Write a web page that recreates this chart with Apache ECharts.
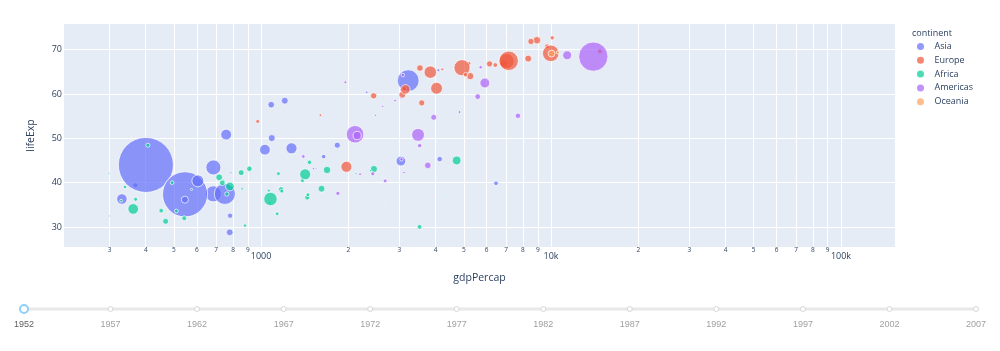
<!DOCTYPE html>
<html><head><meta charset="utf-8">
<script src="https://cdn.jsdelivr.net/npm/echarts@6/dist/echarts.min.js"></script>
<style>html,body{margin:0;padding:0;background:#fff}#c{width:1000px;height:351px}</style>
</head><body><div id="c"></div>
<script>
const years = ['1952','1957','1962','1967','1972','1977','1982','1987','1992','1997','2002','2007'];
const continents = ['Asia','Europe','Africa','Americas','Oceania'];
const colors = ['#636efa','#EF553B','#00cc96','#ab63fa','#FFA15A'];
// [country, gdpPercap, lifeExp, pop]
const asia = [
 ['Afghanistan',779.45,28.80,8425333],['Bahrain',9867.08,50.94,120447],['Bangladesh',684.24,37.48,46886859],
 ['Cambodia',368.47,39.42,4693836],['China',400.45,44.00,556263527],['Hong Kong',3054.42,60.96,2125900],
 ['India',546.57,37.37,372000000],['Indonesia',749.68,37.47,82052000],['Iran',3035.33,44.87,17272000],
 ['Iraq',4129.77,45.32,5441766],['Israel',4086.52,65.39,1620914],['Japan',3216.96,63.03,86459025],
 ['Jordan',1546.91,43.16,607914],['Korea, Dem. Rep.',1088.28,50.06,8865488],['Korea, Rep.',1030.59,47.45,20947571],
 ['Kuwait',108382.35,55.57,160000],['Lebanon',4834.80,55.93,1439529],['Malaysia',1831.13,48.46,6748378],
 ['Mongolia',786.57,42.24,800663],['Myanmar',331.00,36.32,20092996],['Nepal',545.87,36.16,9182536],
 ['Oman',1828.23,37.58,507833],['Pakistan',684.60,43.44,41346560],['Philippines',1272.88,47.75,22438691],
 ['Saudi Arabia',6459.55,39.88,4005677],['Singapore',2315.14,60.40,1127000],['Sri Lanka',1083.53,57.59,7982342],
 ['Syria',1643.49,45.88,3661549],['Taiwan',1206.95,58.50,8550362],['Thailand',757.80,50.85,21289402],
 ['Vietnam',605.07,40.41,26246839],['West Bank and Gaza',1515.59,43.16,1030585],['Yemen, Rep.',781.72,32.55,4963829]
];
const europe = [
 ['Albania',1601.06,55.23,1282697],['Austria',6137.08,66.80,6927772],['Belgium',8343.11,68.00,8730405],
 ['Bosnia and Herzegovina',973.53,53.82,2791000],['Bulgaria',2444.29,59.60,7274900],['Croatia',3119.24,61.21,3882229],
 ['Czech Republic',6876.14,66.87,9125183],['Denmark',9692.39,70.78,4334000],['Finland',6424.52,66.55,4090500],
 ['France',7029.81,67.41,42459667],['Germany',7144.11,67.50,69145952],['Greece',3530.69,65.86,7733250],
 ['Hungary',5263.67,64.03,9504000],['Iceland',7267.69,72.49,147962],['Ireland',5210.28,66.91,2952156],
 ['Italy',4931.40,65.94,47666000],['Montenegro',2647.59,59.16,413834],['Netherlands',8941.57,72.13,10381988],
 ['Norway',10095.42,72.67,3327728],['Poland',4029.33,61.31,25730551],['Portugal',3068.32,59.82,8526050],
 ['Romania',3144.61,61.05,16630000],['Serbia',3581.46,58.00,6860147],['Slovak Republic',5074.66,64.36,3558137],
 ['Slovenia',4215.04,65.57,1489518],['Spain',3834.03,64.94,28549870],['Sweden',8527.84,71.86,7124673],
 ['Switzerland',14734.23,69.62,4815000],['Turkey',1969.10,43.59,22235677],['United Kingdom',9979.51,69.18,50430000]
];
const africa = [
 ['Algeria',2449.01,43.08,9279525],['Angola',3520.61,30.02,4232095],['Benin',1062.75,38.22,1738315],
 ['Botswana',851.24,47.62,442308],['Burkina Faso',543.26,31.98,4469979],['Burundi',339.30,39.03,2445618],
 ['Cameroon',1172.67,38.52,5009067],['Central African Republic',1071.31,35.46,1291695],['Chad',1178.67,38.09,2682462],
 ['Comoros',1102.99,40.72,153936],['Congo, Dem. Rep.',780.54,39.14,14100005],['Congo, Rep.',2125.62,42.11,854885],
 ["Cote d'Ivoire",1388.59,40.48,2977019],['Djibouti',2669.53,34.81,63149],['Egypt',1418.82,41.89,22223309],
 ['Equatorial Guinea',375.64,34.48,216964],['Eritrea',328.94,35.93,1438760],['Ethiopia',362.15,34.08,20860941],
 ['Gabon',4293.48,37.00,420702],['Gambia',485.23,30.00,284320],['Ghana',911.30,43.15,5581001],
 ['Guinea',510.20,33.61,2664249],['Guinea-Bissau',299.85,32.50,580653],['Kenya',853.54,42.27,6464046],
 ['Lesotho',298.85,42.14,748747],['Liberia',575.57,38.48,863308],['Libya',2387.55,42.72,1019729],
 ['Madagascar',1443.01,36.68,4762912],['Malawi',369.17,36.26,2917802],['Mali',452.34,33.69,3838168],
 ['Mauritania',743.12,40.54,1022556],['Mauritius',1967.96,50.99,516556],['Morocco',1688.20,42.87,9939217],
 ['Mozambique',468.53,31.29,6446316],['Namibia',2423.78,41.73,485831],['Niger',761.88,37.44,3379468],
 ['Nigeria',1077.28,36.32,33119096],['Reunion',2718.89,52.72,257700],['Rwanda',493.32,40.00,2534927],
 ['Sao Tome and Principe',879.58,46.47,60011],['Senegal',1450.36,37.28,2755589],['Sierra Leone',879.79,30.33,2143249],
 ['Somalia',1135.75,32.98,2526994],['South Africa',4725.30,45.01,14264935],['Sudan',1615.99,38.64,8504667],
 ['Swaziland',1148.38,41.41,290243],['Tanzania',716.65,41.22,8322925],['Togo',859.81,38.60,1219113],
 ['Tunisia',1468.48,44.60,3647735],['Uganda',734.75,39.98,5824797],['Zambia',1147.39,42.04,2672000],
 ['Zimbabwe',406.88,48.45,3080907]
];
const americas = [
 ['Argentina',5911.32,62.49,17876956],['Bolivia',2677.33,40.41,2883315],['Brazil',2108.94,50.92,56602560],
 ['Canada',11367.16,68.75,14785584],['Chile',3939.98,54.75,6377619],['Colombia',2144.12,50.64,12350771],
 ['Costa Rica',2627.01,57.21,926317],['Cuba',5586.54,59.42,6007797],['Dominican Republic',1397.72,45.93,2491346],
 ['Ecuador',3522.11,48.36,3548753],['El Salvador',3048.30,45.26,2042865],['Guatemala',2428.24,42.02,3146381],
 ['Haiti',1840.37,37.58,3201488],['Honduras',2194.93,41.91,1517453],['Jamaica',2898.53,58.53,1426095],
 ['Mexico',3478.13,50.79,30144317],['Nicaragua',3112.36,42.31,1165790],['Panama',2480.38,55.19,940080],
 ['Paraguay',1952.31,62.65,1555876],['Peru',3758.52,43.90,8025700],['Puerto Rico',3081.96,64.28,2227000],
 ['Trinidad and Tobago',3023.27,59.10,662850],['United States',13990.48,68.44,157553000],
 ['Uruguay',5716.77,66.07,2252965],['Venezuela',7689.80,55.09,5439568]
];
const oceania = [
 ['Australia',10039.60,69.12,8691212],['New Zealand',10556.58,69.39,1994794]
];
const xTickValues = [300,400,500,600,700,800,900,1000,2000,3000,4000,5000,6000,7000,8000,9000,10000,
  20000,30000,40000,50000,60000,70000,80000,90000,100000];
const yTickValues = [30,40,50,60,70];

const groups = [asia, europe, africa, americas, oceania];
const maxPop = Math.max(...groups.flat().map(r => r[3]));
const FONT = '"Open Sans", "Liberation Sans", sans-serif';
const TL_FONT = '"Liberation Sans", Arial, sans-serif';
const TXT = '#2a3f5f';

const chart = echarts.init(document.getElementById('c'), null, {renderer: 'canvas'});

function xLabel(v) {
  const r = Math.round(v);
  if (r === 1000) return '{ma|1000}';
  if (r === 10000) return '{ma|10k}';
  if (r === 100000) return '{ma|100k}';
  const p = Math.pow(10, Math.floor(Math.log10(r) + 1e-9));
  return '{mi|' + Math.round(r / p) + '}';
}

const series = continents.map((name, i) => ({
  name: name,
  type: 'scatter',
  data: groups[i].map(r => ({name: r[0], value: [r[1], r[2], r[3]]})),
  symbol: 'circle',
  symbolSize: v => 55 * Math.sqrt(v[2] / maxPop),
  itemStyle: {color: colors[i], opacity: 0.7, borderColor: '#ffffff', borderWidth: 1},
  emphasis: {disabled: true},
  animation: false
}));

const option = {
  baseOption: {
    animation: false,
    textStyle: {fontFamily: FONT},
    timeline: {
      axisType: 'category',
      data: years,
      currentIndex: 0,
      autoPlay: false,
      left: 24, right: 24, top: 304, height: 30,
      padding: 0,
      symbol: 'circle', symbolSize: 5,
      lineStyle: {color: '#e8e8e8', width: 3},
      itemStyle: {color: '#ffffff', borderColor: '#d6d6d6', borderWidth: 1},
      checkpointStyle: {symbol: 'circle', symbolSize: 8, color: '#ffffff', borderColor: '#8fd0f5', borderWidth: 2, animation: false},
      controlStyle: {show: false},
      label: {position: 11, color: '#a0a0a0', fontSize: 9, fontFamily: TL_FONT},
      progress: {
        lineStyle: {color: '#e8e8e8'},
        itemStyle: {color: '#ffffff', borderColor: '#d6d6d6'},
        label: {color: '#606060', fontSize: 9, fontFamily: TL_FONT}
      },
      emphasis: {
        itemStyle: {color: '#ffffff', borderColor: '#d6d6d6'},
        label: {color: '#a0a0a0', fontSize: 9, fontFamily: TL_FONT}
      }
    },
    title: {
      text: 'continent', left: 912, top: 28, padding: 0,
      textStyle: {fontSize: 9, fontWeight: 'normal', color: TXT, fontFamily: FONT, lineHeight: 11}
    },
    legend: {
      orient: 'vertical', left: 917, top: 41, padding: 0,
      itemWidth: 18, itemHeight: 7, itemGap: 2.8, icon: 'circle',
      data: continents.map((n, i) => ({name: n, itemStyle: {color: colors[i], opacity: 0.7, borderWidth: 0}})),
      textStyle: {fontSize: 9, color: TXT, fontFamily: FONT, lineHeight: 11},
      selectedMode: false
    },
    grid: {left: 64, right: 105, top: 24, bottom: 104, containLabel: false,
      show: true, backgroundColor: '#E5ECF6', borderWidth: 0},
    xAxis: {
      type: 'log', logBase: 10, min: 209, max: 153600,
      name: 'gdpPercap', nameLocation: 'middle', nameGap: 26,
      nameTextStyle: {fontSize: 10.5, color: TXT, fontFamily: FONT},
      axisLine: {show: false},
      axisTick: {show: false, customValues: xTickValues},
      axisLabel: {
        customValues: xTickValues, margin: 0, formatter: xLabel,
        color: TXT, fontFamily: FONT, verticalAlign: 'top',
        rich: {
          mi: {fontSize: 6.5, lineHeight: 10, color: TXT, fontFamily: FONT, verticalAlign: 'top'},
          ma: {fontSize: 9, lineHeight: 12, padding: [5, 0, 0, 0], color: TXT, fontFamily: FONT, verticalAlign: 'top'}
        }
      },
      splitLine: {show: true, lineStyle: {color: '#ffffff', width: 1}},
      minorTick: {show: false}, minorSplitLine: {show: false}
    },
    yAxis: {
      type: 'value', min: 25.49, max: 75.8,
      name: 'lifeExp', nameLocation: 'middle', nameGap: 27,
      nameTextStyle: {fontSize: 10.5, color: TXT, fontFamily: FONT},
      axisLine: {show: false},
      axisTick: {show: false, customValues: yTickValues},
      axisLabel: {customValues: yTickValues, margin: 2, fontSize: 9, color: TXT, fontFamily: FONT},
      splitLine: {show: true, lineStyle: {color: '#ffffff', width: 1}}
    },
    series: continents.map(n => ({name: n, type: 'scatter'}))
  },
  options: [ { series: series } ]
};
chart.setOption(option);
</script>
</body></html>
